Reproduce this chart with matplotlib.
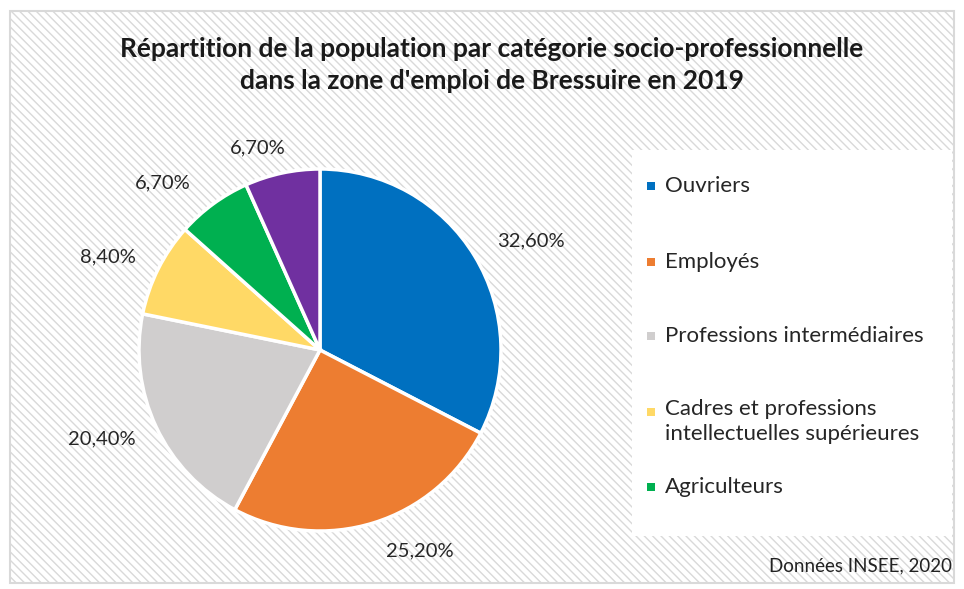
import matplotlib
matplotlib.use("Agg")
import matplotlib.pyplot as plt
import numpy as np
from matplotlib.patches import Rectangle

categories = ["Ouvriers", "Employés", "Professions intermédiaires",
              "Cadres et professions\nintellectuelles supérieures", "Agriculteurs",
              "Artisans, commerçants, chefs d'entreprise"]
values = [32.6, 25.2, 20.4, 8.4, 6.7, 6.7]
colors = ["#0070C0", "#ED7D31", "#D0CECE", "#FFD966", "#00B050", "#7030A0"]
title = "Répartition de la population par catégorie socio-professionnelle\ndans la zone d'emploi de Bressuire en 2019"
source = "Données INSEE, 2020"

# label placement (Excel "best fit" style): angle shift in degrees, radial distance
label_shift = [-4, 9, -3, 3, 7, 5]
label_dist = [1.31, 1.24, 1.30, 1.28, 1.27, 1.17]

plt.rcParams['font.family'] = ['Lato', 'DejaVu Sans']
plt.rcParams['hatch.color'] = "#DADADA"
plt.rcParams['hatch.linewidth'] = 1.0

W, H = 964, 589
fig = plt.figure(figsize=(W / 100, H / 100), dpi=100)
fig.patch.set_facecolor("white")

# background with diagonal hatch
bg = Rectangle((10 / W, 1 - 583 / H), 944 / W, 572 / H, transform=fig.transFigure,
               facecolor="white", edgecolor="#D9D9D9", hatch="\\\\\\\\", linewidth=1.5, zorder=-2)
fig.patches.append(bg)

# legend box
lg = Rectangle((632 / W, 1 - 536 / H), 320 / W, 386 / H, transform=fig.transFigure,
               facecolor="white", edgecolor="none", zorder=-1)
fig.patches.append(lg)

fig.text(492 / W, 1 - 65 / H, title, ha="center", va="center", fontsize=19,
         fontweight="bold", linespacing=1.38, color="#1a1a1a")
fig.text(952 / W, 1 - 566 / H, source, ha="right", va="center", fontsize=13.5, color="#222222")

cx, cy, R = 320, 350, 181
ax = fig.add_axes([(cx - R) / W, (H - cy - R) / H, 2 * R / W, 2 * R / H])
wedges, texts = ax.pie(values, colors=colors, startangle=90, counterclock=False, radius=1,
                       wedgeprops=dict(edgecolor="white", linewidth=2.5))
ax.set_xlim(-1, 1)
ax.set_ylim(-1, 1)
ax.set_aspect("equal")
ax.axis("off")

for w, v, sh, d in zip(wedges, values, label_shift, label_dist):
    ang = np.deg2rad((w.theta1 + w.theta2) / 2 + sh)
    ax.text(d * np.cos(ang), d * np.sin(ang), f"{v:.2f}%".replace(".", ","),
            ha="center", va="center", fontsize=14.5, color="#262626", clip_on=False)

# legend entries (first five, as in the original)
leg_y = [186, 262, 336, 412, 487]
for i in range(5):
    y = leg_y[i]
    fig.patches.append(Rectangle((647 / W, 1 - (y + 4) / H), 8 / W, 8 / H,
                                 transform=fig.transFigure, facecolor=colors[i],
                                 edgecolor="none", zorder=2))
    if "\n" in categories[i]:
        fig.text(665 / W, 1 - (y - 13) / H, categories[i], ha="left", va="top",
                 fontsize=16, color="#262626", linespacing=1.3)
    else:
        fig.text(665 / W, 1 - y / H, categories[i], ha="left", va="center",
                 fontsize=16, color="#262626")

fig.savefig("out.png", dpi=100)
